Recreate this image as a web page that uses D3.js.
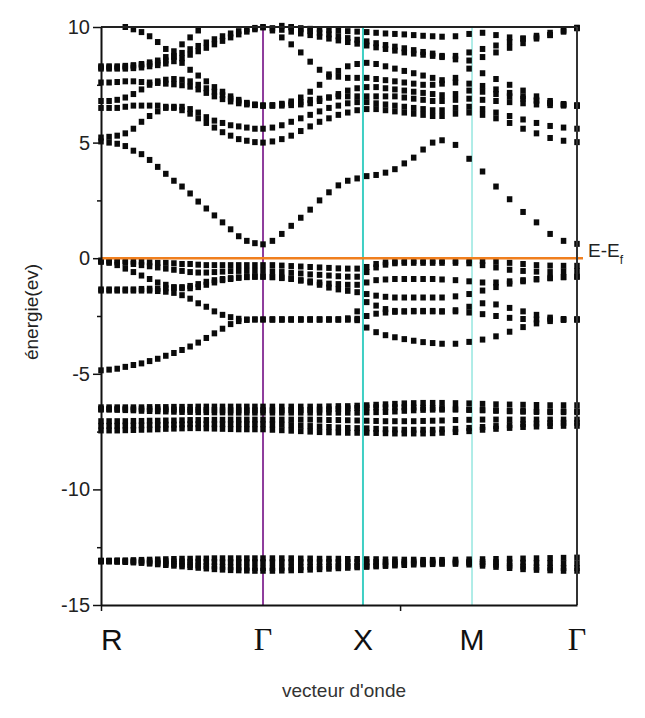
<!DOCTYPE html>
<html><head><meta charset="utf-8">
<script src="https://cdn.jsdelivr.net/npm/d3@7"></script>
<style>body{margin:0;background:#fff}</style>
</head><body><svg id="c" width="645" height="718"></svg>
<script>
// ---- data ----
const kPoints = [0,0.05,0.1,0.15,0.2,0.25,0.3,0.35,0.4,0.45,0.5,0.55,0.6,0.65,0.7,0.75,0.8,0.85,0.9,0.95,1.0,
  1.058,1.116,1.174,1.233,1.291,1.349,1.407,1.465,1.523,1.581,1.64,1.698,1.756,1.814,1.872,1.93,1.988,2.047,2.105,
  2.188,2.272,2.355,2.438,2.522,2.605,2.688,2.772,2.855,2.938];
const symPointK = [0, 1, 1.617, 2.29, 2.938];
const symPointLabels = ["R", "Γ", "X", "M", "Γ"];
const yMajorTicks = [-15, -10, -5, 0, 5, 10];
const yMinorTicks = [-12.5, -7.5, -2.5, 2.5, 7.5];
const xAxisTicks = [0, 1.846];
const N21 = [null,null,null,null,null,null,null,null,null,null,null,null,null,null,null,null,null,null,null,null,null];

const bandC1 = [5.05,5.0,4.95,4.85,4.65,4.5,4.25,3.95,3.65,3.35,3.1,2.8,2.45,2.15,1.85,1.55,1.25,0.95,0.75,0.65,0.6,
  0.75,1.05,1.4,1.75,2.1,2.5,2.85,3.15,3.35,3.45,3.55,3.6,3.7,3.85,4.1,4.35,4.7,5.0,5.1,
  4.9,4.3,3.75,3.1,2.55,2.0,1.55,1.05,0.75,0.62];
const bandUA = [5.22,5.25,5.3,5.4,5.6,5.9,6.15,6.35,6.5,6.55,6.55,6.45,6.3,6.1,5.95,5.85,5.75,5.7,5.65,5.6,5.6,
  5.65,5.75,5.9,6.05,6.2,6.35,6.5,6.6,6.7,6.75,6.75,6.7,6.65,6.6,6.55,6.5,6.45,6.4,6.4,
  6.5,6.55,6.45,6.3,6.15,6.0,5.85,5.72,5.65,5.6];
const bandUB = [6.5,6.5,6.5,6.55,6.6,6.6,6.6,6.6,6.55,6.5,6.4,6.25,6.05,5.85,5.65,5.45,5.3,5.15,5.08,5.02,5.0,
  5.05,5.15,5.3,5.5,5.7,5.9,6.05,6.2,6.3,6.4,6.45,6.45,6.4,6.35,6.3,6.25,6.2,6.15,6.15,
  6.25,6.3,6.2,6.05,5.85,5.6,5.4,5.2,5.08,5.02];
const bandUC = [6.8,6.8,6.85,6.95,7.1,7.3,7.5,7.65,7.72,7.75,7.72,7.65,7.5,7.35,7.2,7.05,6.9,6.78,6.7,6.63,6.6,
  6.6,6.65,6.7,6.75,6.85,6.9,6.95,7.0,7.0,7.0,7.0,7.0,7.0,7.0,6.95,6.9,6.85,6.8,6.8,
  6.85,6.9,6.85,6.8,6.75,6.7,6.65,6.62,6.6,6.6];
const bandUD = [7.6,7.6,7.62,7.65,7.65,7.62,7.6,7.58,7.55,7.52,7.48,7.42,7.3,7.15,7.0,6.88,6.78,6.7,6.65,6.62,6.6,
  6.62,6.68,6.78,6.95,7.2,7.5,7.85,8.1,8.3,8.4,8.45,8.4,8.3,8.2,8.1,8.0,7.9,7.8,7.7,
  7.6,7.55,7.45,7.3,7.15,7.0,6.85,6.72,6.65,6.6];
const bandUE = [10.6,10.4,10.2,10.0,9.9,9.78,9.6,9.35,9.05,8.75,8.45,8.15,7.9,7.65,7.4,7.2,7.0,6.85,6.72,6.65,6.6,
  6.6,6.6,6.62,6.65,6.7,6.8,6.95,7.1,7.25,7.35,7.4,7.4,7.35,7.3,7.25,7.2,7.15,7.1,7.05,
  7.1,7.25,7.2,7.1,7.0,6.9,6.8,6.7,6.63,6.6];
const bandUF = [8.3,8.3,8.3,8.32,8.35,8.4,8.47,8.55,8.7,8.95,9.25,9.55,9.85,10.1,10.3,10.5,10.7,10.9,11.0,11.1,11.2,
  9.85,9.55,9.25,8.9,8.5,8.15,7.95,7.85,7.8,7.8,7.8,7.75,7.7,7.65,7.6,7.55,7.5,7.5,7.55,
  7.8,8.2,8.0,7.75,7.5,7.25,7.0,6.8,6.67,6.6];
const bandUG = [8.25,8.25,8.25,8.28,8.3,8.35,8.4,8.45,8.55,8.7,8.88,9.04,9.18,9.33,9.47,9.6,9.72,9.82,9.9,9.96,10.0,
  9.95,9.88,9.8,9.72,9.65,9.58,9.5,9.42,9.35,9.28,9.2,9.12,9.05,8.98,8.9,8.85,8.8,8.75,8.7,
  8.75,8.9,9.05,9.2,9.35,9.5,9.62,9.75,9.88,9.97];
const bandUH = [8.2,8.2,8.2,8.2,8.22,8.25,8.3,8.35,8.42,8.52,8.65,8.8,8.95,9.1,9.25,9.4,9.55,9.68,9.8,9.9,9.98,
  10.1,10.05,9.98,9.9,9.82,9.75,9.68,9.6,9.52,9.45,9.38,9.3,9.22,9.15,9.08,9.0,8.92,8.85,8.75,
  8.6,8.55,8.7,8.9,9.1,9.3,9.5,9.65,9.82,9.95];
const bandUJ = N21.concat([10.2,10.1,10.0,9.95,9.92,9.9,9.88,9.85,9.82,9.8,9.78,9.75,9.72,9.7,9.68,9.65,9.62,9.6,9.58,
  9.6,9.7,9.75,9.65,9.55,9.5,9.55,9.65,9.8,9.95]);

const bandV1 = [-0.1,-0.1,-0.1,-0.12,-0.15,-0.15,-0.18,-0.2,-0.2,-0.22,-0.25,-0.25,-0.28,-0.3,-0.3,-0.3,-0.3,-0.3,-0.3,-0.3,-0.3,
  -0.3,-0.32,-0.34,-0.36,-0.38,-0.4,-0.42,-0.44,-0.45,-0.45,-0.38,-0.25,-0.18,-0.15,-0.13,-0.12,-0.12,-0.12,-0.12,
  -0.12,-0.1,-0.12,-0.15,-0.2,-0.25,-0.3,-0.32,-0.33,-0.33];
const bandV2 = [-0.15,-0.15,-0.18,-0.2,-0.25,-0.3,-0.35,-0.4,-0.45,-0.5,-0.55,-0.6,-0.62,-0.62,-0.6,-0.58,-0.56,-0.55,-0.55,-0.55,-0.55,
  -0.57,-0.6,-0.63,-0.66,-0.7,-0.72,-0.75,-0.78,-0.8,-0.8,-0.6,-0.4,-0.28,-0.22,-0.2,-0.2,-0.2,-0.2,-0.2,
  -0.2,-0.22,-0.3,-0.4,-0.5,-0.55,-0.58,-0.6,-0.58,-0.55];
const bandV3 = [-0.15,-0.2,-0.3,-0.45,-0.6,-0.75,-0.9,-1.05,-1.15,-1.25,-1.3,-1.3,-1.25,-1.15,-1.05,-0.95,-0.9,-0.85,-0.82,-0.8,-0.8,
  -0.82,-0.86,-0.9,-0.95,-1.0,-1.05,-1.1,-1.12,-1.15,-1.15,-1.05,-0.95,-0.92,-0.9,-0.9,-0.9,-0.9,-0.9,-0.92,
  -0.95,-1.0,-1.05,-1.05,-1.0,-0.95,-0.9,-0.85,-0.82,-0.8];
const bandV4 = [-1.35,-1.35,-1.35,-1.35,-1.35,-1.33,-1.32,-1.32,-1.3,-1.28,-1.25,-1.2,-1.12,-1.02,-0.95,-0.9,-0.86,-0.83,-0.81,-0.8,-0.8,
  -0.82,-0.84,-0.88,-0.97,-1.05,-1.15,-1.27,-1.35,-1.41,-1.47,-1.55,-1.62,-1.67,-1.7,-1.7,-1.7,-1.7,-1.7,-1.7,
  -1.65,-1.55,-1.4,-1.25,-1.1,-1.0,-0.92,-0.87,-0.82,-0.8];
const bandV5 = [-1.4,-1.4,-1.4,-1.4,-1.4,-1.4,-1.4,-1.42,-1.45,-1.5,-1.6,-1.75,-1.95,-2.1,-2.3,-2.45,-2.55,-2.62,-2.65,-2.65,-2.65,
  -2.65,-2.65,-2.65,-2.65,-2.65,-2.65,-2.65,-2.65,-2.65,-2.62,-2.5,-2.4,-2.35,-2.32,-2.3,-2.28,-2.28,-2.28,-2.3,
  -2.3,-2.35,-2.42,-2.5,-2.58,-2.63,-2.65,-2.65,-2.65,-2.65];
const bandV6 = [-4.85,-4.82,-4.78,-4.7,-4.62,-4.55,-4.45,-4.35,-4.22,-4.1,-3.97,-3.82,-3.65,-3.45,-3.25,-3.05,-2.85,-2.72,-2.67,-2.65,-2.65,
  -2.65,-2.65,-2.65,-2.65,-2.65,-2.65,-2.65,-2.65,-2.65,-2.68,-3.0,-3.2,-3.33,-3.42,-3.5,-3.57,-3.63,-3.67,-3.7,
  -3.7,-3.62,-3.52,-3.38,-3.18,-2.98,-2.82,-2.72,-2.67,-2.65];
const bandV7 = N21.concat([-2.65,-2.65,-2.65,-2.65,-2.65,-2.65,-2.65,-2.65,-2.6,-2.3,-1.9,-2.05,-2.2,-2.28,-2.3,-2.3,-2.3,-2.3,-2.3,
  -2.25,-2.1,-1.95,-2.0,-2.15,-2.3,-2.45,-2.57,-2.63,-2.65]);

const bandG1 = [-6.45,-6.45,-6.45,-6.45,-6.45,-6.45,-6.44,-6.44,-6.44,-6.43,-6.43,-6.43,-6.42,-6.42,-6.42,-6.42,-6.42,-6.42,-6.42,-6.42,-6.42,
  -6.42,-6.42,-6.42,-6.42,-6.42,-6.42,-6.41,-6.4,-6.4,-6.38,-6.36,-6.34,-6.32,-6.3,-6.28,-6.27,-6.26,-6.26,-6.26,
  -6.27,-6.28,-6.3,-6.32,-6.33,-6.34,-6.35,-6.36,-6.36,-6.36];
const bandG2 = [-6.52,-6.52,-6.52,-6.52,-6.53,-6.53,-6.53,-6.54,-6.54,-6.55,-6.55,-6.56,-6.56,-6.57,-6.57,-6.58,-6.58,-6.58,-6.58,-6.58,-6.58,
  -6.58,-6.58,-6.57,-6.57,-6.56,-6.55,-6.54,-6.52,-6.5,-6.48,-6.46,-6.45,-6.45,-6.45,-6.45,-6.46,-6.47,-6.48,-6.5,
  -6.52,-6.55,-6.56,-6.58,-6.6,-6.6,-6.61,-6.62,-6.62,-6.62];
const bandG3 = [-6.55,-6.55,-6.56,-6.57,-6.58,-6.6,-6.61,-6.62,-6.63,-6.64,-6.65,-6.65,-6.66,-6.66,-6.67,-6.67,-6.68,-6.68,-6.68,-6.68,-6.68,
  -6.68,-6.68,-6.68,-6.68,-6.68,-6.68,-6.68,-6.68,-6.68,-6.68,-6.67,-6.66,-6.65,-6.63,-6.6,-6.58,-6.56,-6.55,-6.55,
  -6.55,-6.56,-6.58,-6.6,-6.62,-6.64,-6.65,-6.66,-6.66,-6.66];
const bandG4 = [-7.05,-7.05,-7.05,-7.05,-7.04,-7.04,-7.03,-7.03,-7.02,-7.02,-7.01,-7.0,-7.0,-7.0,-6.99,-6.99,-6.98,-6.98,-6.98,-6.98,-6.98,
  -6.98,-6.98,-6.98,-6.98,-6.98,-6.99,-7.0,-7.0,-7.01,-7.02,-7.03,-7.04,-7.05,-7.05,-7.05,-7.05,-7.04,-7.03,-7.02,
  -7.0,-6.99,-6.98,-6.98,-6.98,-6.98,-6.98,-6.98,-6.98,-6.98];
const bandG5 = [-7.25,-7.25,-7.25,-7.24,-7.24,-7.23,-7.22,-7.21,-7.2,-7.2,-7.19,-7.18,-7.18,-7.18,-7.18,-7.18,-7.18,-7.18,-7.18,-7.18,-7.18,
  -7.19,-7.2,-7.22,-7.24,-7.26,-7.28,-7.3,-7.32,-7.34,-7.35,-7.36,-7.38,-7.4,-7.41,-7.42,-7.42,-7.42,-7.42,-7.4,
  -7.38,-7.34,-7.3,-7.26,-7.22,-7.18,-7.15,-7.13,-7.12,-7.12];
const bandG6 = [-7.45,-7.45,-7.45,-7.44,-7.43,-7.42,-7.41,-7.4,-7.38,-7.37,-7.36,-7.35,-7.35,-7.36,-7.37,-7.38,-7.39,-7.4,-7.4,-7.4,-7.4,
  -7.42,-7.44,-7.46,-7.48,-7.5,-7.52,-7.53,-7.54,-7.55,-7.55,-7.55,-7.56,-7.57,-7.58,-7.58,-7.58,-7.58,-7.57,-7.55,
  -7.52,-7.48,-7.42,-7.38,-7.34,-7.3,-7.28,-7.26,-7.25,-7.25];

const bandH1 = [-13.08,-13.08,-13.07,-13.07,-13.06,-13.05,-13.04,-13.03,-13.02,-13.01,-13.0,-13.0,-12.99,-12.99,-12.98,-12.98,-12.98,-12.98,-12.98,-12.98,-12.98,
  -12.98,-12.98,-12.98,-12.99,-12.99,-13.0,-13.0,-13.0,-13.01,-13.01,-13.02,-13.02,-13.03,-13.03,-13.04,-13.04,-13.05,-13.05,-13.05,
  -13.04,-13.03,-13.02,-13.01,-13.0,-12.99,-12.98,-12.97,-12.96,-12.95];
const bandH2 = [-13.1,-13.1,-13.1,-13.1,-13.1,-13.1,-13.1,-13.11,-13.11,-13.12,-13.12,-13.13,-13.13,-13.14,-13.14,-13.15,-13.15,-13.15,-13.15,-13.15,-13.15,
  -13.15,-13.15,-13.15,-13.15,-13.15,-13.15,-13.15,-13.15,-13.15,-13.15,-13.15,-13.14,-13.14,-13.13,-13.13,-13.12,-13.12,-13.12,-13.12,
  -13.12,-13.13,-13.14,-13.15,-13.16,-13.17,-13.18,-13.19,-13.2,-13.2];
const bandH3 = [-13.1,-13.1,-13.11,-13.12,-13.13,-13.15,-13.17,-13.19,-13.21,-13.23,-13.25,-13.27,-13.29,-13.31,-13.33,-13.35,-13.37,-13.38,-13.39,-13.4,-13.4,
  -13.4,-13.39,-13.38,-13.37,-13.36,-13.35,-13.34,-13.33,-13.32,-13.31,-13.3,-13.28,-13.26,-13.24,-13.22,-13.2,-13.19,-13.18,-13.17,
  -13.17,-13.18,-13.22,-13.26,-13.3,-13.34,-13.37,-13.39,-13.4,-13.4];
const bandH4 = [-13.12,-13.12,-13.13,-13.14,-13.16,-13.18,-13.21,-13.24,-13.27,-13.3,-13.33,-13.36,-13.39,-13.42,-13.45,-13.47,-13.49,-13.5,-13.51,-13.52,-13.52,
  -13.52,-13.51,-13.5,-13.49,-13.47,-13.45,-13.43,-13.41,-13.39,-13.37,-13.35,-13.33,-13.31,-13.29,-13.27,-13.25,-13.24,-13.23,-13.22,
  -13.22,-13.25,-13.3,-13.35,-13.4,-13.45,-13.48,-13.5,-13.52,-13.52];

const bands = [bandC1, bandUA, bandUB, bandUC, bandUD, bandUE, bandUF, bandUG, bandUH, bandUJ,
  bandV1, bandV2, bandV3, bandV4, bandV5, bandV6, bandV7,
  bandG1, bandG2, bandG3, bandG4, bandG5, bandG6,
  bandH1, bandH2, bandH3, bandH4];

// ---- chart ----
const svg = d3.select("#c");
const x = d3.scaleLinear().domain([0, 2.938]).range([101, 577]);
const y = d3.scaleLinear().domain([-15, 10]).range([605, 27]);
const FONT = "'Liberation Sans', Arial, sans-serif";

// symmetry lines
const symColors = [null, "#8e3c9c", "#3fcfc4", "#9de8e2", null];
const symWidths = [0, 2, 2, 1.6, 0];
symPointK.forEach((k, i) => {
  if (!symColors[i]) return;
  svg.append("line").attr("x1", x(k)).attr("x2", x(k)).attr("y1", y(10)).attr("y2", y(-15))
    .attr("stroke", symColors[i]).attr("stroke-width", symWidths[i]);
});

// points
const pts = [];
bands.forEach(b => b.forEach((e, i) => {
  if (e !== null && e <= 10.05 && e >= -15) pts.push({k: kPoints[i], e: e});
}));
const SW = 5.5, SH = 6;
svg.append("g").selectAll("rect").data(pts).join("rect")
  .attr("x", d => x(d.k) - SW / 2).attr("y", d => y(d.e) - SH / 2)
  .attr("width", SW).attr("height", SH).attr("fill", "#0a0a0a");

// Fermi level
svg.append("line").attr("x1", x(0)).attr("x2", x(2.938) + 6).attr("y1", y(0)).attr("y2", y(0))
  .attr("stroke", "#f07f1e").attr("stroke-width", 2.5);
const ef = svg.append("text").attr("x", x(2.938) + 11).attr("y", y(0) - 1)
  .attr("font-family", FONT).attr("font-size", 19).attr("fill", "#222");
ef.append("tspan").text("E-E");
ef.append("tspan").text("f").attr("font-size", 12).attr("dy", 7);

// frame top & right
svg.append("line").attr("x1", x(0)).attr("x2", x(2.938)).attr("y1", y(10)).attr("y2", y(10))
  .attr("stroke", "#222").attr("stroke-width", 2);
svg.append("line").attr("x1", x(2.938)).attr("x2", x(2.938)).attr("y1", y(10)).attr("y2", y(-15))
  .attr("stroke", "#333").attr("stroke-width", 2);

// y axis
const yAxis = svg.append("g").attr("transform", `translate(${x(0)},0)`)
  .call(d3.axisLeft(y).tickValues(yMajorTicks).tickSize(8).tickSizeOuter(0).tickPadding(3).tickFormat(d => String(d)));
yAxis.select(".domain").attr("stroke", "#111").attr("stroke-width", 2);
yAxis.selectAll(".tick line").attr("stroke", "#111").attr("stroke-width", 1.5);
yAxis.selectAll(".tick text").attr("font-family", FONT).attr("font-size", 20).attr("fill", "#222");
const yMinor = svg.append("g").attr("transform", `translate(${x(0)},0)`)
  .call(d3.axisLeft(y).tickValues(yMinorTicks).tickSize(4).tickSizeOuter(0).tickFormat(""));
yMinor.select(".domain").remove();
yMinor.selectAll(".tick line").attr("stroke", "#111").attr("stroke-width", 1.5);

// x axis
const xAxis = svg.append("g").attr("transform", `translate(0,${y(-15)})`)
  .call(d3.axisBottom(x).tickValues(xAxisTicks).tickSize(6).tickSizeOuter(0).tickFormat(""));
xAxis.select(".domain").attr("stroke", "#111").attr("stroke-width", 2);
xAxis.selectAll(".tick line").attr("stroke", "#111").attr("stroke-width", 1.5);

// symmetry labels
symPointK.forEach((k, i) => {
  const lbl = symPointLabels[i];
  const greek = lbl === "Γ";
  svg.append("text").attr("x", x(k)).attr("y", 650)
    .attr("text-anchor", i === 0 ? "start" : "middle")
    .attr("font-family", greek ? "'Liberation Serif', 'Times New Roman', serif" : FONT)
    .attr("font-size", greek ? 32 : 30).attr("fill", "#111").text(lbl);
});

// axis titles
svg.append("text").attr("x", 344).attr("y", 697).attr("text-anchor", "middle")
  .attr("font-family", FONT).attr("font-size", 19).attr("fill", "#333").text("vecteur d'onde");
svg.append("text").attr("transform", "translate(38,312) rotate(-90)").attr("text-anchor", "middle")
  .attr("font-family", FONT).attr("font-size", 19).attr("fill", "#222").text("énergie(ev)");
</script></body></html>
